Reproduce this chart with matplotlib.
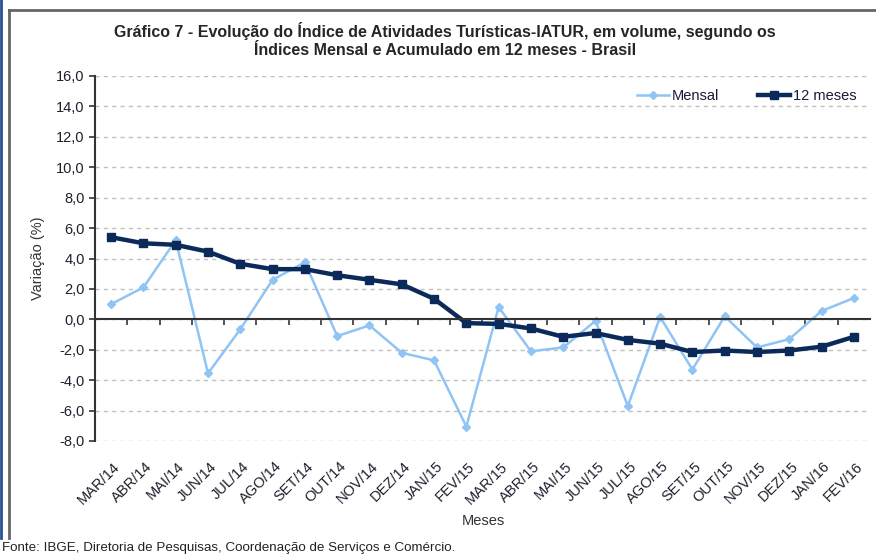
import numpy as np
import matplotlib.pyplot as plt
from matplotlib.lines import Line2D
from matplotlib.ticker import FuncFormatter
import matplotlib.transforms as mtransforms

plt.rcParams['font.family'] = ['Liberation Sans', 'DejaVu Sans']

meses = ["MAR/14", "ABR/14", "MAI/14", "JUN/14", "JUL/14", "AGO/14", "SET/14",
         "OUT/14", "NOV/14", "DEZ/14", "JAN/15", "FEV/15", "MAR/15", "ABR/15",
         "MAI/15", "JUN/15", "JUL/15", "AGO/15", "SET/15", "OUT/15", "NOV/15",
         "DEZ/15", "JAN/16", "FEV/16"]
mensal = [1.0, 2.1, 5.2, -3.55, -0.65, 2.6, 3.75, -1.1, -0.4, -2.2, -2.7, -7.05,
          0.8, -2.1, -1.85, -0.1, -5.7, 0.15, -3.3, 0.2, -1.85, -1.3, 0.55, 1.4]
acum12 = [5.4, 5.0, 4.9, 4.45, 3.65, 3.3, 3.3, 2.9, 2.6, 2.3, 1.35, -0.25,
          -0.3, -0.6, -1.15, -0.9, -1.35, -1.6, -2.15, -2.05, -2.15, -2.05, -1.8, -1.15]

cor_mensal = "#8fc4f4"
cor_12 = "#0b2a5a"
cor_texto = "#1f1f2e"

fig = plt.figure(figsize=(8.76, 5.55), dpi=100)
ax = fig.add_axes([95 / 876, 1 - 441 / 555, (870 - 95) / 876, (441 - 76) / 555])

x = np.arange(len(meses))
ax.plot(x, mensal, color=cor_mensal, lw=1.8, marker="D", ms=4.5, label="Mensal")
ax.plot(x, acum12, color=cor_12, lw=3.2, marker="s", ms=6, label="12 meses")

ax.set_xlim(-0.5, len(meses) - 0.5)
ax.set_ylim(-8, 16)
ax.set_yticks(np.arange(-8, 16.1, 2))
ax.yaxis.set_major_formatter(FuncFormatter(lambda v, p: f"{v:.1f}".replace(".", ",")))
ax.tick_params(axis="y", direction="out", length=4, width=1.2, colors="#333333",
               labelcolor=cor_texto, labelsize=10.5)
ax.grid(axis="y", color="#c0c0c0", linestyle=(0, (3, 3)), lw=1)
ax.set_axisbelow(True)

for s in ["top", "right"]:
    ax.spines[s].set_visible(False)
ax.spines["left"].set_color("#333333")
ax.spines["left"].set_linewidth(1.5)
ax.spines["bottom"].set_position(("data", 0))
ax.spines["bottom"].set_color("#333333")
ax.spines["bottom"].set_linewidth(1.5)

ax.set_xticks(np.arange(0.5, len(meses) - 0.5, 1))
ax.set_xticklabels([])
ax.tick_params(axis="x", direction="out", length=4, width=1.2, colors="#333333")

trans = mtransforms.blended_transform_factory(ax.transData, ax.transAxes)
for i, m in enumerate(meses):
    ax.text(i + 0.05, -0.05, m, transform=trans, rotation=45, rotation_mode="anchor",
            ha="right", va="top", fontsize=10.5, color=cor_texto)

ax.set_ylabel("Variação (%)", fontsize=10.5, color="#333333", labelpad=8)
fig.text(483 / 876, 1 - 521 / 555, "Meses", ha="center", va="center",
         fontsize=10.5, color="#333333")

fig.text(445 / 876, 1 - 40 / 555,
         "Gráfico 7 - Evolução do Índice de Atividades Turísticas-IATUR, em volume, segundo os\n"
         "Índices Mensal e Acumulado em 12 meses - Brasil",
         ha="center", va="center", fontsize=11.5, fontweight="bold", color="#262626",
         linespacing=1.3)

ax.legend(loc="upper right", bbox_to_anchor=(1.0, 1.0), ncol=2, frameon=False,
          fontsize=10.5, handlelength=2.2, columnspacing=2.7, handletextpad=0.2,
          labelcolor="#1a1a3a")

fig.text(2 / 876, 1 - 548 / 555, "Fonte: IBGE, Diretoria de Pesquisas, Coordenação de Serviços e Comércio.",
         ha="left", va="center", fontsize=9.6, color="#222222")

# moldura
fig.add_artist(Line2D([9 / 876, 9 / 876], [1 - 10 / 555, 1 - 538 / 555], color="#666666", lw=2))
fig.add_artist(Line2D([9 / 876, 1], [1 - 10 / 555, 1 - 10 / 555], color="#666666", lw=2))
fig.add_artist(Line2D([1 / 876, 1 / 876], [1, 1 - 538 / 555], color="#2a4f8f", lw=2))

fig.savefig("out.png", dpi=100)
